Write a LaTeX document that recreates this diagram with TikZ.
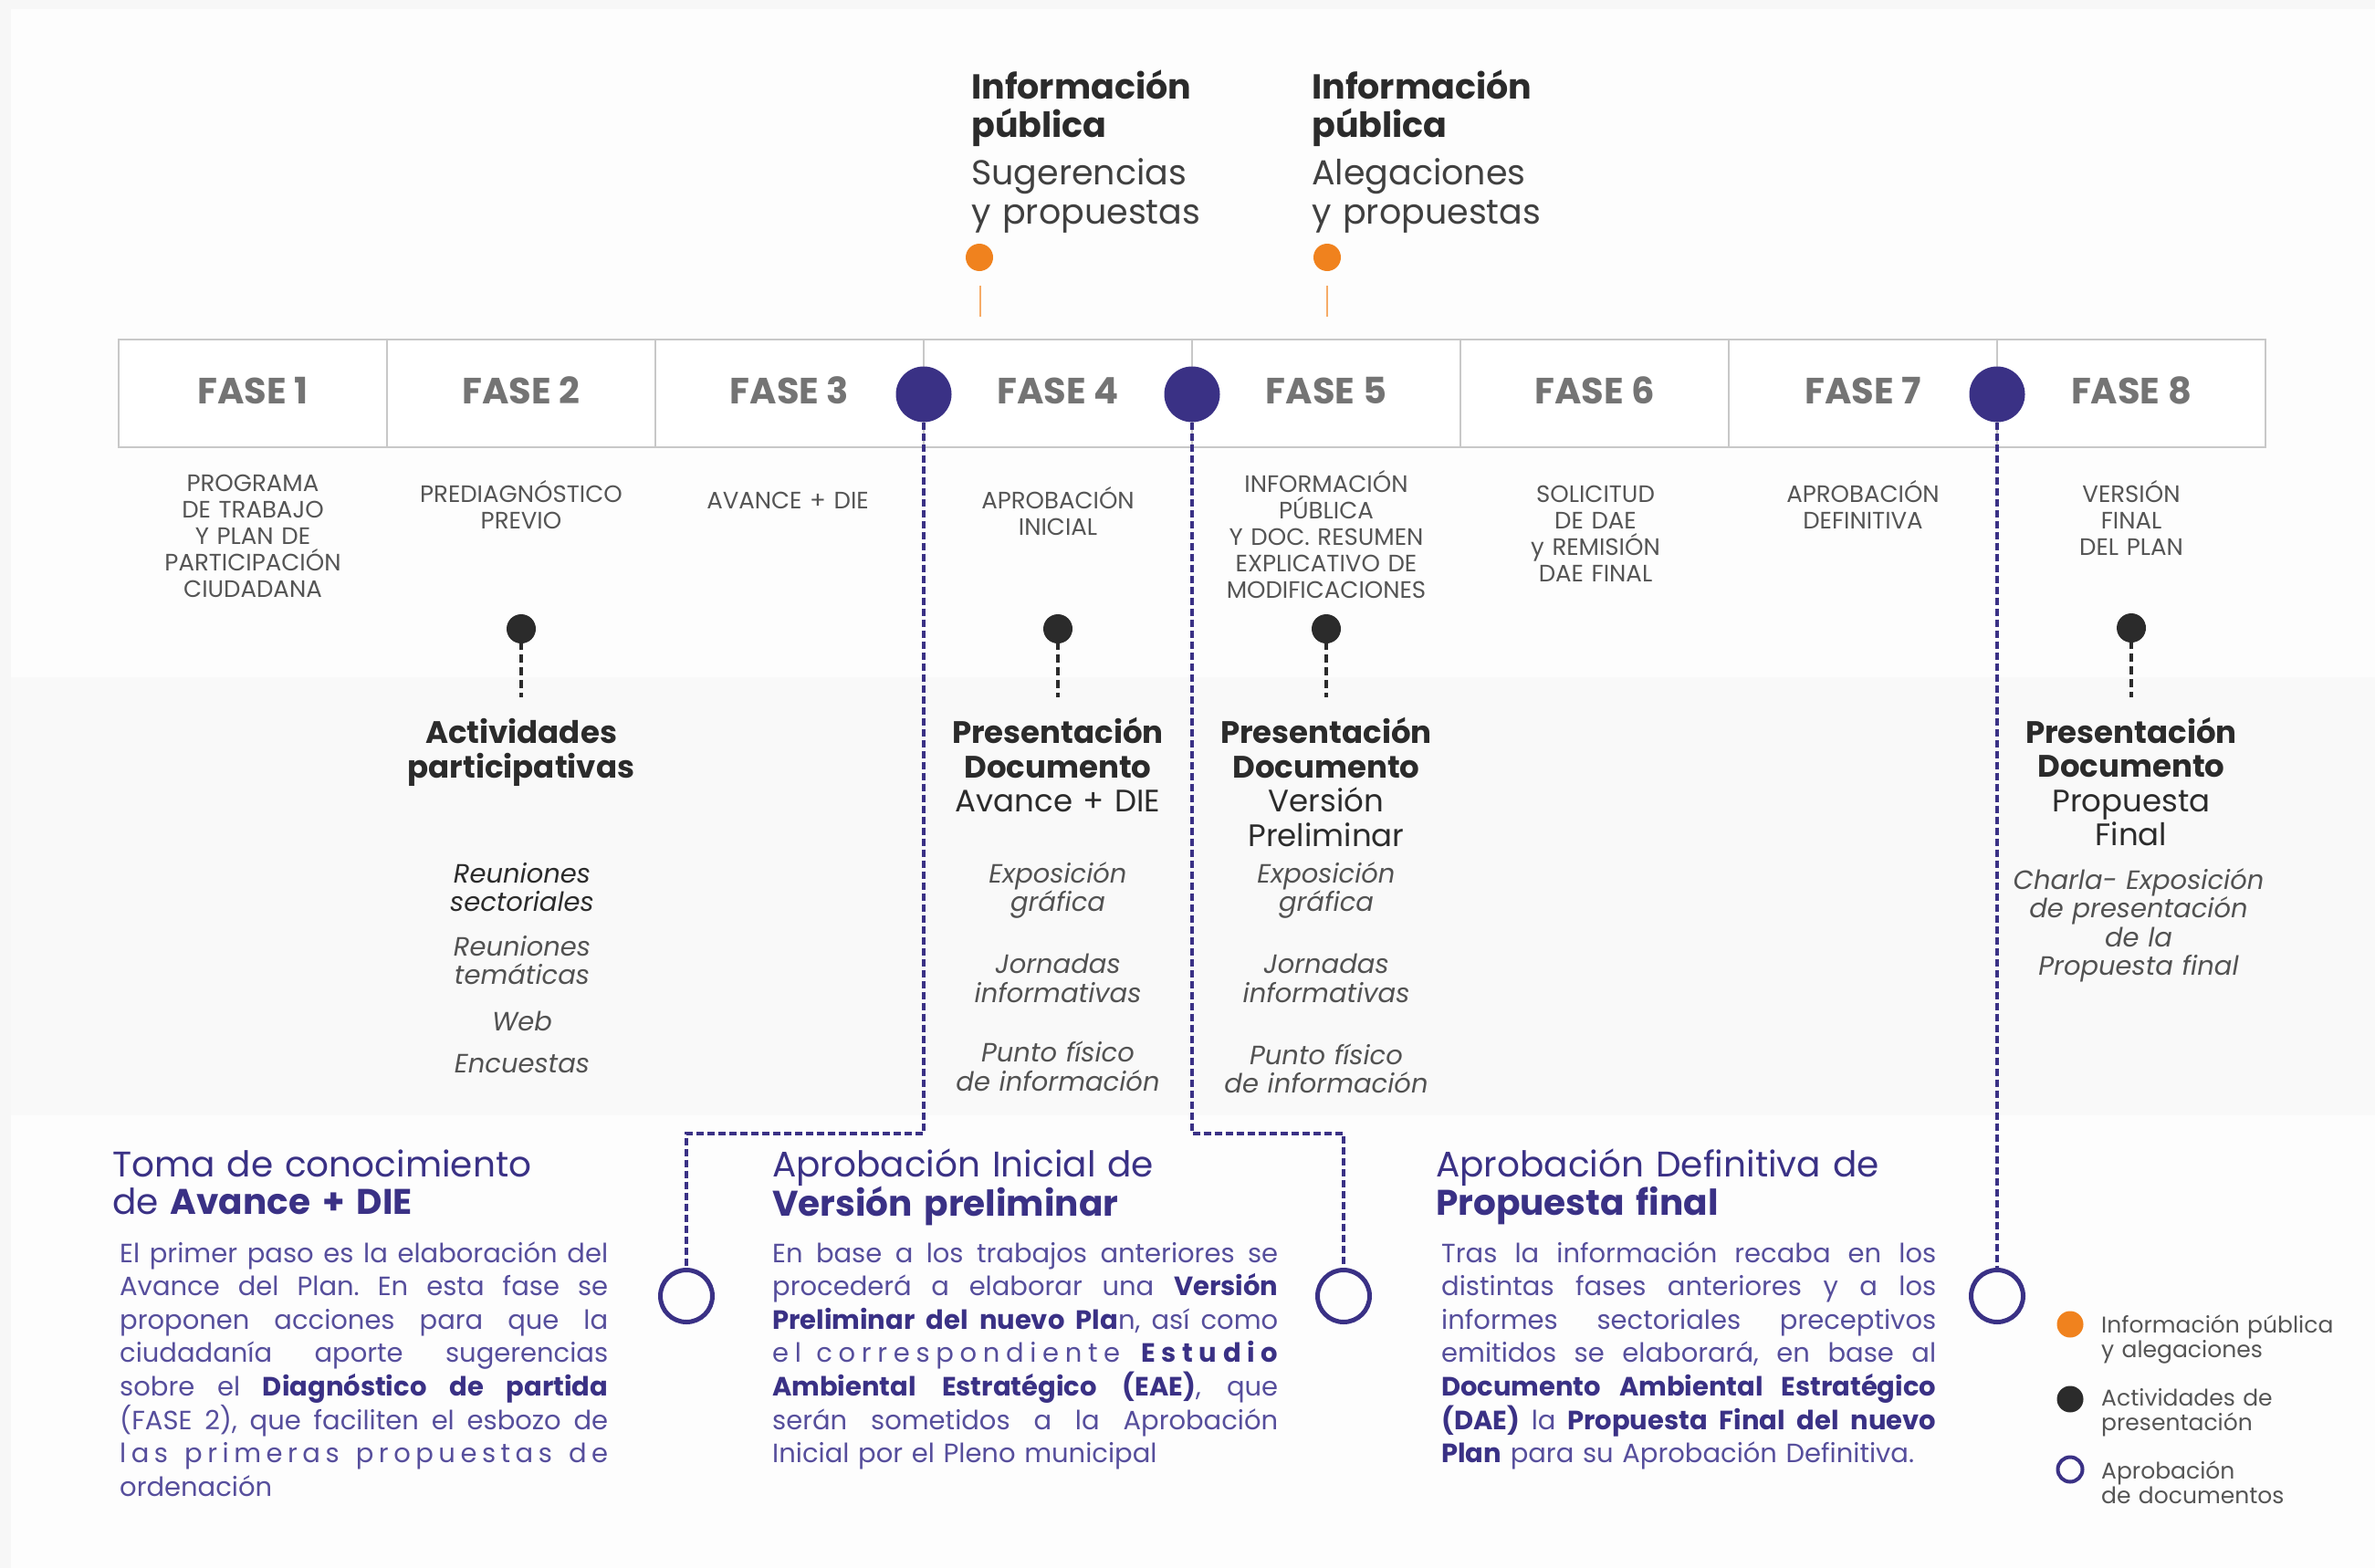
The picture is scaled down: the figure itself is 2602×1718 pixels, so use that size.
\documentclass[tikz,border=0pt]{standalone}
\usepackage{fontspec}
\setmainfont{Poppins}
\newcommand\setfs[2]{\fontsize{#1}{#2}\selectfont}
\newcommand\jline[1]{\makebox[\hsize][s]{\spaceskip=\fontdimen2\font plus 1fil\relax #1}\par}
\newcommand\nb[1]{\textbf{\color{navy}#1}}
\definecolor{navy}{RGB}{58,49,133}
\definecolor{navytxt}{RGB}{86,78,156}
\definecolor{orangeA}{RGB}{240,130,30}
\definecolor{orangeL}{RGB}{246,172,104}
\definecolor{darkpin}{RGB}{43,43,43}
\definecolor{faseg}{RGB}{116,116,116}
\definecolor{descg}{RGB}{85,85,85}
\definecolor{itg}{RGB}{82,82,82}
\definecolor{tline}{RGB}{200,200,200}
\definecolor{bgout}{RGB}{247,247,247}
\definecolor{panel}{RGB}{253,253,253}
\definecolor{band}{RGB}{249,249,249}
\begin{document}
\begin{tikzpicture}[x=1pt,y=-1pt,
  fase/.style={font=\bfseries\setfs{40}{44}, text=faseg, anchor=base, inner sep=0pt},
  desc/.style={font=\setfs{26}{29}, text=descg, anchor=base, align=center, text width=290pt, inner sep=0pt},
  ptitle/.style={font=\setfs{34}{37.5}, text=darkpin, anchor=base, align=center, text width=290pt, inner sep=0pt},
  item/.style={font=\itshape\setfs{29}{31.5}, text=itg, anchor=base, align=center, text width=290pt, inner sep=0pt},
  toph/.style={font=\bfseries\setfs{38}{42}, text=darkpin, anchor=base west, align=left, text width=320pt, inner sep=0pt},
  topr/.style={font=\setfs{38}{43}, text=darkpin!90, anchor=base west, align=left, text width=320pt, inner sep=0pt},
  head/.style={font=\setfs{39}{41}, text=navy, anchor=base west, align=left, text width=640pt, inner sep=0pt},
  body/.style={font=\frenchspacing\setfs{29}{36.6}, text=navytxt, anchor=base west, align=left, inner sep=0pt},
  leg/.style={font=\setfs{25}{27.5}, text=descg, anchor=base west, align=left, text width=300pt, inner sep=0pt},
  bdot/.style={circle, fill=navy, minimum size=61pt, inner sep=0pt},
  odot/.style={circle, fill=orangeA, minimum size=30pt, inner sep=0pt},
  pdot/.style={circle, fill=darkpin, minimum size=32pt, inner sep=0pt},
  ocirc/.style={circle, draw=navy, line width=5pt, minimum size=57pt, inner sep=0pt},
  navydash/.style={draw=navy, line width=3.5pt, dash pattern=on 8pt off 4pt},
  stem/.style={draw=darkpin, line width=4pt, dash pattern=on 9pt off 5pt},
  oline/.style={draw=orangeL, line width=2.5pt},
  tbl/.style={draw=tline, line width=2pt}
]
\useasboundingbox (0,0) rectangle (2602,1718);
% background
\fill[bgout] (0,0) rectangle (2602,1718);
\fill[panel] (12,10) rectangle (2602,1718);
\fill[band] (12,742) rectangle (2602,1222);

% phase table
\filldraw[tbl, fill=white] (130,372) rectangle (2482,490);
\foreach \xx in {424,718,1012,1306,1600,1894,2188}
  \draw[tbl] (\xx,372) -- (\xx,490);

\node[fase] (f1) at (277,442) {FASE 1};
\node[fase] (f2) at (571,442) {FASE 2};
\node[fase] (f3) at (865,442) {FASE 3};
\node[fase] (f4) at (1159,442) {FASE 4};
\node[fase] (f5) at (1453,442) {FASE 5};
\node[fase] (f6) at (1747,442) {FASE 6};
\node[fase] (f7) at (2041,442) {FASE 7};
\node[fase] (f8) at (2335,442) {FASE 8};

% top public information
\node[toph] (h1) at (1064,109) {Información\\pública};
\node[topr] (r1) at (1064,202) {Sugerencias\\y propuestas};
\node[toph] (h2) at (1437,109) {Información\\pública};
\node[topr] (r2) at (1437,202) {Alegaciones\\y propuestas};
\node[odot] (o1) at (1073,282) {};
\node[odot] (o2) at (1454,282) {};
\coordinate (o1a) at (1074,313); \coordinate (o1b) at (1074,347);
\coordinate (o2a) at (1454,313); \coordinate (o2b) at (1454,347);
\draw[oline] (o1a) -- (o1b);
\draw[oline] (o2a) -- (o2b);

% phase descriptions
\node[desc] (d1) at (277,538) {PROGRAMA\\DE TRABAJO\\Y PLAN DE\\PARTICIPACIÓN\\CIUDADANA};
\node[desc] (d2) at (571,550) {PREDIAGNÓSTICO\\PREVIO};
\node[desc] (d3) at (863,557) {AVANCE + DIE};
\node[desc] (d4) at (1159,557) {APROBACIÓN\\INICIAL};
\node[desc] (d5) at (1453,539) {INFORMACIÓN\\PÚBLICA\\Y DOC. RESUMEN\\EXPLICATIVO DE\\MODIFICACIONES};
\node[desc] (d6) at (1748,550) {SOLICITUD\\DE DAE\\y REMISIÓN\\DAE FINAL};
\node[desc] (d7) at (2041,550) {APROBACIÓN\\DEFINITIVA};
\node[desc] (d8) at (2335,550) {VERSIÓN\\FINAL\\DEL PLAN};

% pins
\node[pdot] (p2) at (571,689) {};
\node[pdot] (p4) at (1159,689) {};
\node[pdot] (p5) at (1453,689) {};
\node[pdot] (p8) at (2335,688) {};
\coordinate (p2e) at (571,764); \coordinate (p4e) at (1159,764);
\coordinate (p5e) at (1453,764); \coordinate (p8e) at (2335,764);
\draw[stem] (p2.center) -- (p2e);
\draw[stem] (p4.center) -- (p4e);
\draw[stem] (p5.center) -- (p5e);
\draw[stem] (p8.center) -- (p8e);

% activity titles
\node[ptitle] (t2) at (571,814.5) {\textbf{Actividades}\\\textbf{participativas}};
\node[ptitle] (t4) at (1159,814.5) {\textbf{Presentación}\\\textbf{Documento}\\Avance + DIE};
\node[ptitle] (t5) at (1453,814.5) {\textbf{Presentación}\\\textbf{Documento}\\Versión\\Preliminar};
\node[ptitle] (t8) at (2335,814) {\textbf{Presentación}\\\textbf{Documento}\\Propuesta\\Final};

% activity items
\node[item, text=darkpin] (i2a) at (572,967) {Reuniones\\sectoriales};
\node[item] (i2b) at (572,1047) {Reuniones\\temáticas};
\node[item] (i2c) at (572,1129.5) {Web};
\node[item] (i2d) at (572,1175.5) {Encuestas};
\node[item] (i4a) at (1159,967) {Exposición\\gráfica};
\node[item] (i4b) at (1159,1066.5) {Jornadas\\informativas};
\node[item] (i4c) at (1159,1163.5) {Punto físico\\de información};
\node[item] (i5a) at (1453,967) {Exposición\\gráfica};
\node[item] (i5b) at (1453,1066.5) {Jornadas\\informativas};
\node[item] (i5c) at (1453,1166) {Punto físico\\de información};
\node[item] (i8) at (2343,974) {Charla- Exposición\\de presentación\\de la\\Propuesta final};

% approval markers
\node[bdot] (b1) at (1012,432) {};
\node[bdot] (b2) at (1306,432) {};
\node[bdot] (b3) at (2188,432) {};
\node[ocirc] (c1) at (752,1420) {};
\node[ocirc] (c2) at (1472,1420) {};
\node[ocirc] (c3) at (2188,1420) {};
\coordinate (k1) at (1012,1242); \coordinate (k2) at (752,1242);
\coordinate (k3) at (1306,1242); \coordinate (k4) at (1472,1242);
\draw[navydash] (b1.south) -- (k1) -- (k2) -- (c1.north);
\draw[navydash] (b2.south) -- (k3) -- (k4) -- (c2.north);
\draw[navydash] (b3.south) -- (c3.north);

% headings
\node[head] (hA) at (123,1289) {Toma de conocimiento\\de \textbf{Avance + DIE}};
\node[head] (hB) at (846,1289) {Aprobación Inicial de\\\textbf{Versión preliminar}};
\node[head] (hC) at (1573,1289) {Aprobación Definitiva de\\\textbf{Propuesta final}};

% body texts
\node[body, text width=535pt] (bA) at (131,1383) {%
\jline{El primer paso es la elaboración del}%
\jline{Avance del Plan. En esta fase se}%
\jline{proponen acciones para que la}%
\jline{ciudadanía aporte sugerencias}%
\jline{sobre el \nb{Diagnóstico de partida}}%
\jline{(FASE 2), que faciliten el esbozo de}%
\jline{\addfontfeature{LetterSpace=19}las primeras propuestas de}%
ordenación};
\node[body, text width=554pt] (bB) at (846,1383) {%
\jline{En base a los trabajos anteriores se}%
\jline{procederá a elaborar una \nb{Versión}}%
\jline{\nb{Preliminar del nuevo Pla}n, así como}%
\jline{\addfontfeature{LetterSpace=23}el correspondiente \nb{\addfontfeature{LetterSpace=23}Estudio}}%
\jline{\nb{Ambiental Estratégico (EAE)}, que}%
\jline{serán sometidos a la Aprobación}%
Inicial por el Pleno municipal};
\node[body, text width=542pt] (bC) at (1579,1383) {%
\jline{Tras la información recaba en los}%
\jline{distintas fases anteriores y a los}%
\jline{informes sectoriales preceptivos}%
\jline{emitidos se elaborará, en base al}%
\jline{\nb{Documento Ambiental Estratégico}}%
\jline{\nb{(DAE)} la \nb{Propuesta Final del nuevo}}%
\nb{Plan} para su Aprobación Definitiva.};

% legend
\node[odot, minimum size=29pt] (lg1) at (2268,1451) {};
\node[pdot, minimum size=29pt] (lg2) at (2268,1533) {};
\node[ocirc, line width=4pt, minimum size=27pt] (lg3) at (2268,1610) {};
\node[leg] (lt1) at (2302,1460) {Información pública\\y alegaciones};
\node[leg] (lt2) at (2302,1540) {Actividades de\\presentación};
\node[leg] (lt3) at (2302,1620) {Aprobación\\de documentos};
\end{tikzpicture}
\end{document}
